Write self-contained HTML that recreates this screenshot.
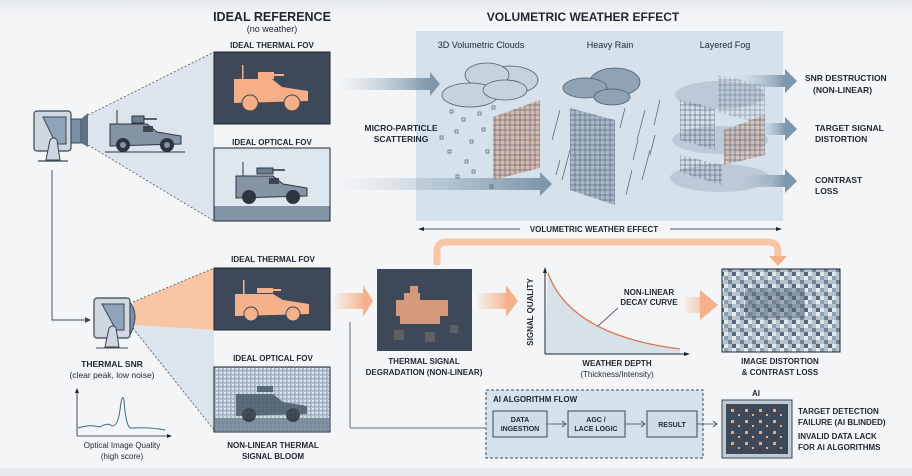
<!DOCTYPE html>
<html><head><meta charset="utf-8"><style>
html,body{margin:0;padding:0;background:#f3f5f7;}
svg{display:block;font-family:"Liberation Sans",sans-serif;}
.b{font-weight:bold;fill:#1e2732;}
.n{fill:#1e2732;}
</style></head><body>
<svg width="912" height="476" viewBox="0 0 912 476" xmlns="http://www.w3.org/2000/svg">
<defs>
<linearGradient id="ga" x1="0" x2="1"><stop offset="0" stop-color="#a9bccc" stop-opacity="0"/><stop offset="1" stop-color="#7f97ab"/></linearGradient>
<linearGradient id="go" x1="0" x2="1"><stop offset="0" stop-color="#f8c9a8" stop-opacity="0.2"/><stop offset="1" stop-color="#f6b08a"/></linearGradient>
<linearGradient id="top" x1="0" y1="0" x2="0" y2="1"><stop offset="0" stop-color="#e2e6ea"/><stop offset="1" stop-color="#f3f5f7"/></linearGradient>
<pattern id="grid" width="5" height="5" patternUnits="userSpaceOnUse"><rect width="5" height="5" fill="none" stroke="#4d5f72" stroke-width="0.6"/></pattern>
<pattern id="noise" width="12" height="12" patternUnits="userSpaceOnUse"><rect width="12" height="12" fill="#b6c3cf"/><rect x="0" y="0" width="4" height="4" fill="#e6ecf1"/><rect x="8" y="4" width="4" height="4" fill="#6f8296"/><rect x="4" y="8" width="4" height="4" fill="#dfe6ec"/><rect x="4" y="0" width="4" height="4" fill="#8da0b2"/><rect x="0" y="8" width="4" height="4" fill="#56687b"/></pattern>
<pattern id="fine" width="4" height="4" patternUnits="userSpaceOnUse"><rect width="4" height="4" fill="#aebccb"/><rect width="2" height="2" fill="#d7dfe7"/><rect x="2" y="2" width="1" height="1" fill="#6b7d90"/></pattern>
<pattern id="dots" width="14" height="11" patternUnits="userSpaceOnUse"><rect x="3" y="2" width="3" height="3" fill="#f0a97c"/><rect x="10" y="7" width="2" height="2" fill="#e9b08c"/></pattern>
</defs>
<rect width="912" height="476" fill="#f3f5f7"/>
<rect width="912" height="14" fill="url(#top)"/>

<!-- titles -->
<text x="272" y="21" class="b" font-size="12.5" text-anchor="middle">IDEAL REFERENCE</text>
<text x="272" y="32" class="n" font-size="9" text-anchor="middle">(no weather)</text>
<text x="272" y="48" class="b" font-size="8" text-anchor="middle">IDEAL THERMAL FOV</text>
<text x="272" y="145" class="b" font-size="8" text-anchor="middle">IDEAL OPTICAL FOV</text>

<!-- cone top -->
<polygon points="88,115 214,52 214,221 88,145" fill="#d6e1ea" opacity="0.8"/>
<line x1="88" y1="115" x2="214" y2="52" stroke="#555" stroke-dasharray="2,2" stroke-width="0.8"/>
<line x1="88" y1="145" x2="214" y2="221" stroke="#555" stroke-dasharray="2,2" stroke-width="0.8"/>
<!-- camera 1 -->
<rect x="34" y="111" width="37" height="40" rx="3" fill="#cfd8e0" stroke="#3b4655" stroke-width="1.2"/>
<polygon points="43,117 66,117 66,144 56,144" fill="#8fa6ba" stroke="#3b4655"/>
<rect x="71" y="119" width="10" height="24" fill="#7990a5" stroke="#3b4655"/>
<polygon points="81,119 88,113 88,147 81,143" fill="#5d7186"/>
<path d="M46,160 L50,140 Q54,136 57,140 L60,160Z" fill="#cfd8e0" stroke="#3b4655"/>
<line x1="38" y1="161" x2="68" y2="161" stroke="#3b4655" stroke-width="1.2"/>
<!-- small vehicle -->
<g transform="translate(107,110)">
<rect x="25" y="6" width="12" height="7" fill="#6b7d90" stroke="#2c3540"/><line x1="37" y1="9" x2="50" y2="9" stroke="#2c3540" stroke-width="1.5"/>
<line x1="10" y1="0" x2="10" y2="14" stroke="#2c3540"/>
<path d="M3,14 L40,14 L50,22 L74,26 L74,34 L3,36Z" fill="#8494a5" stroke="#2c3540"/>
<rect x="36" y="16" width="10" height="6" fill="#3b4655"/>
<circle cx="16" cy="35" r="7" fill="#2c3540"/><circle cx="16" cy="35" r="3" fill="#8494a5"/>
<circle cx="60" cy="35" r="7" fill="#2c3540"/><circle cx="60" cy="35" r="3" fill="#8494a5"/>
<line x1="-2" y1="42" x2="78" y2="42" stroke="#2c3540"/>
</g>
<!-- thermal box -->
<rect x="214" y="52" width="116" height="72" fill="#3d4959" stroke="#1e2732"/>
<g transform="translate(232,65)" fill="#f5ae86">
<rect x="26" y="7" width="16" height="7"/><rect x="40" y="9" width="12" height="2"/><rect x="10" y="0" width="1.5" height="14"/>
<path d="M2,14 L40,14 L50,22 L76,26 L76,36 L2,38Z"/>
<circle cx="18" cy="38" r="8" stroke="#3d4959" stroke-width="1"/><circle cx="60" cy="38" r="8" stroke="#3d4959" stroke-width="1"/>
</g>
<!-- optical box -->
<rect x="214" y="148" width="116" height="73" fill="#dfe7ee" stroke="#1e2732"/>
<rect x="214.5" y="206" width="115" height="14.5" fill="#8494a5"/>
<g transform="translate(233,162)">
<rect x="24" y="6" width="16" height="6" fill="#6b7d90" stroke="#2c3540"/><line x1="40" y1="8" x2="52" y2="8" stroke="#2c3540" stroke-width="1.5"/>
<line x1="10" y1="0" x2="10" y2="14" stroke="#2c3540"/>
<path d="M3,14 L40,14 L50,22 L74,26 L74,34 L3,36Z" fill="#8494a5" stroke="#2c3540"/>
<rect x="36" y="16" width="10" height="6" fill="#3b4655"/>
<circle cx="16" cy="35" r="7" fill="#2c3540"/><circle cx="60" cy="35" r="7" fill="#2c3540"/>
</g>

<!-- weather panel -->
<text x="583" y="21" class="b" font-size="12" text-anchor="middle">VOLUMETRIC WEATHER EFFECT</text>
<rect x="416" y="31" width="367" height="190" fill="#d6e2eb"/>
<text x="481" y="48" class="n" font-size="9" text-anchor="middle">3D Volumetric Clouds</text>
<text x="610" y="48" class="n" font-size="9" text-anchor="middle">Heavy Rain</text>
<text x="725" y="48" class="n" font-size="9" text-anchor="middle">Layered Fog</text>
<!-- arrows into panel -->
<rect x="340" y="78" width="90" height="12" fill="url(#ga)"/><polygon points="430,72 440,84 430,96" fill="#7f97ab"/>
<rect x="340" y="178" width="200" height="12" fill="url(#ga)"/><polygon points="540,172 552,184 540,196" fill="#7f97ab"/>
<text x="401" y="131" class="b" font-size="8.5" text-anchor="middle">MICRO-PARTICLE</text>
<text x="401" y="142" class="b" font-size="8.5" text-anchor="middle">SCATTERING</text>
<!-- clouds -->
<g fill="#c6d3de" stroke="#4d5f72" stroke-width="0.8">
<ellipse cx="510" cy="80" rx="28" ry="14"/><ellipse cx="487" cy="75" rx="22" ry="12"/><ellipse cx="470" cy="95" rx="28" ry="12"/><ellipse cx="505" cy="90" rx="22" ry="10"/>
</g>
<g fill="#8fa3b5" stroke="#4d5f72" stroke-width="0.8">
<ellipse cx="615" cy="82" rx="25" ry="14"/><ellipse cx="585" cy="88" rx="22" ry="10"/><ellipse cx="612" cy="97" rx="18" ry="8"/>
</g>
<g fill="none" stroke="#4d5f72" stroke-width="0.7">
<rect x="450" y="110" width="3" height="3"/><rect x="462" y="118" width="3" height="3"/><rect x="455" y="130" width="3" height="3"/><rect x="470" y="140" width="3" height="3"/><rect x="448" y="150" width="3" height="3"/><rect x="465" y="160" width="3" height="3"/><rect x="478" y="112" width="3" height="3"/><rect x="472" y="170" width="3" height="3"/><rect x="456" y="175" width="3" height="3"/><rect x="490" y="185" width="3" height="3"/><rect x="482" y="128" width="3" height="3"/><rect x="486" y="150" width="3" height="3"/><rect x="440" y="136" width="3" height="3"/><rect x="492" y="106" width="3" height="3"/>
</g>
<polygon points="493,117 540,100 540,168 493,180" fill="#d9a892" opacity="0.7"/>
<polygon points="493,117 540,100 540,168 493,180" fill="url(#grid)"/>
<g stroke="#4d5f72" stroke-width="0.7">
<line x1="560" y1="110" x2="552" y2="140"/><line x1="570" y1="150" x2="562" y2="180"/><line x1="645" y1="110" x2="637" y2="140"/><line x1="650" y1="150" x2="642" y2="180"/><line x1="632" y1="170" x2="626" y2="195"/><line x1="660" y1="100" x2="654" y2="125"/><line x1="625" y1="108" x2="620" y2="128"/><line x1="638" y1="140" x2="633" y2="160"/><line x1="560" y1="160" x2="556" y2="175"/><line x1="655" y1="135" x2="650" y2="155"/>
</g>
<polygon points="570,108 615,120 615,205 570,190" fill="#a8b8c7"/>
<polygon points="570,108 615,120 615,205 570,190" fill="url(#grid)"/>
<!-- fog -->
<g fill="#b3c2cf" opacity="0.75"><ellipse cx="720" cy="95" rx="45" ry="14"/><ellipse cx="720" cy="140" rx="48" ry="14"/><ellipse cx="720" cy="178" rx="50" ry="14"/></g>
<polygon points="718,75 765,85 765,125 718,112" fill="url(#grid)" opacity="0.7"/>
<polygon points="680,100 715,108 715,150 680,140" fill="url(#grid)"/>
<polygon points="724,130 765,115 765,155 724,165" fill="#d9b4a0" opacity="0.6"/>
<polygon points="724,130 765,115 765,155 724,165" fill="url(#grid)"/>
<polygon points="680,155 722,165 722,185 680,172" fill="url(#grid)"/>
<!-- out arrows -->
<rect x="740" y="75" width="45" height="12" fill="url(#ga)"/><polygon points="785,69 797,81 785,93" fill="#7f97ab"/>
<rect x="760" y="123" width="25" height="12" fill="url(#ga)"/><polygon points="785,117 797,129 785,141" fill="#7f97ab"/>
<rect x="740" y="175" width="45" height="12" fill="url(#ga)"/><polygon points="785,169 797,181 785,193" fill="#7f97ab"/>
<text x="805" y="81" class="b" font-size="8.5">SNR DESTRUCTION</text>
<text x="813" y="93" class="b" font-size="8.5">(NON-LINEAR)</text>
<text x="815" y="131" class="b" font-size="8.5">TARGET SIGNAL</text>
<text x="815" y="142" class="b" font-size="8.5">DISTORTION</text>
<text x="815" y="183" class="b" font-size="8.5">CONTRAST</text>
<text x="815" y="194" class="b" font-size="8.5">LOSS</text>
<!-- double arrow -->
<line x1="419" y1="229" x2="520" y2="229" stroke="#1e2732" stroke-width="0.8"/>
<line x1="670" y1="229" x2="781" y2="229" stroke="#1e2732" stroke-width="0.8"/>
<polygon points="418,229 424,227 424,231" fill="#1e2732"/><polygon points="782,229 776,227 776,231" fill="#1e2732"/>
<text x="594" y="232" class="b" font-size="8" text-anchor="middle">VOLUMETRIC WEATHER EFFECT</text>
<!-- orange curved arrow -->
<path d="M437,265 L437,252 Q437,242 447,242 L768,242 Q778,242 778,252 L778,258" fill="none" stroke="#f8c6a5" stroke-width="7"/>
<polygon points="769,256 787,256 778,266" fill="#f6b08a"/>

<!-- connector camera1 -> camera2 -->
<polyline points="52,170 52,320 88,320" fill="none" stroke="#3b4655" stroke-width="0.9"/>
<polygon points="91,320 85,317 85,323" fill="#3b4655"/>
<!-- bottom cones -->
<polygon points="133,302 214,268 214,330 133,325" fill="#f8c6a5"/>
<polygon points="133,325 214,330 214,430 133,330" fill="#d6e1ea" opacity="0.8"/>
<line x1="133" y1="302" x2="214" y2="268" stroke="#555" stroke-dasharray="2,2" stroke-width="0.8"/>
<line x1="133" y1="328" x2="214" y2="430" stroke="#555" stroke-dasharray="2,2" stroke-width="0.8"/>
<!-- camera 2 -->
<rect x="94" y="298" width="36" height="40" rx="3" fill="#cfd8e0" stroke="#3b4655" stroke-width="1.2"/>
<path d="M130,302 Q140,315 130,335Z" fill="#7990a5" stroke="#3b4655"/>
<polygon points="102,304 124,304 124,330 116,330" fill="#8fa6ba" stroke="#3b4655"/>
<path d="M105,347 L109,328 Q113,324 116,328 L119,347Z" fill="#cfd8e0" stroke="#3b4655"/>
<line x1="96" y1="348" x2="128" y2="348" stroke="#3b4655"/>
<text x="112" y="367" class="b" font-size="8.5" text-anchor="middle">THERMAL SNR</text>
<text x="112" y="378" class="n" font-size="8.5" text-anchor="middle">(clear peak, low noise)</text>
<!-- small graph -->
<line x1="77" y1="390" x2="77" y2="436" stroke="#1e2732" stroke-width="0.8"/>
<line x1="77" y1="436" x2="170" y2="436" stroke="#1e2732" stroke-width="0.8"/>
<polygon points="77,388 75,393 79,393" fill="#1e2732"/><polygon points="172,436 167,434 167,438" fill="#1e2732"/>
<path d="M78,428 Q90,424 100,427 Q108,422 112,426 Q118,426 120,410 Q122,392 124,400 Q126,430 132,428 Q150,427 165,430" fill="none" stroke="#3b6a88" stroke-width="1"/>
<text x="122" y="448" class="n" font-size="8" text-anchor="middle">Optical Image Quality</text>
<text x="122" y="459" class="n" font-size="8" text-anchor="middle">(high score)</text>
<!-- bottom thermal -->
<text x="273" y="262" class="b" font-size="8" text-anchor="middle">IDEAL THERMAL FOV</text>
<rect x="214" y="268" width="116" height="62" fill="#3d4959" stroke="#1e2732"/>
<g transform="translate(233,280)" fill="#f5b08c">
<rect x="24" y="8" width="16" height="5"/><rect x="38" y="9" width="10" height="2"/><rect x="10" y="0" width="1.5" height="14"/>
<path d="M2,14 L40,14 L50,20 L76,24 L76,34 L2,36Z"/>
<circle cx="18" cy="34" r="7" stroke="#3d4959"/><circle cx="60" cy="34" r="7" stroke="#3d4959"/>
</g>
<text x="273" y="361" class="b" font-size="8" text-anchor="middle">IDEAL OPTICAL FOV</text>
<rect x="214" y="367" width="116" height="65" fill="url(#fine)" stroke="#1e2732"/>
<rect x="215" y="418" width="114" height="13" fill="#6f8294" opacity="0.8"/>
<g transform="translate(233,380)" fill="#4a5b6d" opacity="0.85">
<rect x="24" y="6" width="16" height="6"/><path d="M3,14 L40,14 L50,22 L74,26 L74,34 L3,36Z"/>
<circle cx="16" cy="35" r="7" fill="#2c3540"/><circle cx="60" cy="35" r="7" fill="#2c3540"/>
</g>
<text x="273" y="448" class="b" font-size="8" text-anchor="middle">NON-LINEAR THERMAL</text>
<text x="273" y="459" class="b" font-size="8" text-anchor="middle">SIGNAL BLOOM</text>
<!-- orange arrow 1 -->
<rect x="335" y="293" width="30" height="16" fill="url(#go)"/><polygon points="363,285 373,301 363,317" fill="#f6b08a"/>
<polyline points="350,322 350,428" fill="none" stroke="#3b4655" stroke-width="0.8"/>
<!-- blurred box -->
<rect x="377" y="269" width="95" height="82" fill="#3d4959"/>
<g fill="#f0a882" opacity="0.85"><rect x="404" y="293" width="16" height="8"/><rect x="396" y="300" width="52" height="16"/><rect x="400" y="316" width="40" height="8"/><rect x="410" y="286" width="8" height="8"/></g>
<g fill="#6d6a6a" opacity="0.7"><rect x="394" y="330" width="10" height="10"/><rect x="425" y="332" width="10" height="10"/><rect x="450" y="325" width="8" height="8"/></g>
<text x="424" y="364" class="b" font-size="8" text-anchor="middle">THERMAL SIGNAL</text>
<text x="424" y="375" class="b" font-size="8" text-anchor="middle">DEGRADATION (NON-LINEAR)</text>
<!-- orange arrow 2 -->
<rect x="478" y="293" width="30" height="16" fill="url(#go)"/><polygon points="506,285 518,301 506,317" fill="#f6b08a"/>
<!-- decay graph -->
<path d="M548,273 Q570,335 680,349 L680,354 L545,354Z" fill="#d6e1ea"/>
<path d="M548,273 Q570,335 680,349" fill="none" stroke="#e07850" stroke-width="1.3"/>
<line x1="545" y1="270" x2="545" y2="354" stroke="#1e2732"/><line x1="545" y1="354" x2="688" y2="354" stroke="#1e2732"/>
<polygon points="545,267 543,273 547,273" fill="#1e2732"/><polygon points="690,354 684,352 684,356" fill="#1e2732"/>
<text transform="translate(533,312) rotate(-90)" class="b" font-size="8" text-anchor="middle">SIGNAL QUALITY</text>
<text x="649" y="295" class="b" font-size="8" text-anchor="middle">NON-LINEAR</text>
<text x="649" y="305" class="b" font-size="8" text-anchor="middle">DECAY CURVE</text>
<line x1="598" y1="326" x2="618" y2="308" stroke="#1e2732" stroke-width="0.7"/>
<text x="617" y="366" class="b" font-size="8" text-anchor="middle">WEATHER DEPTH</text>
<text x="617" y="377" class="n" font-size="8" text-anchor="middle">(Thickness/Intensity)</text>
<!-- orange arrow 3 -->
<rect x="685" y="297" width="25" height="16" fill="url(#go)"/><polygon points="700,290 718,305 700,320" fill="#f6b08a"/>
<!-- noisy box -->
<rect x="722" y="269" width="118" height="83" fill="url(#noise)" stroke="#1e2732"/>
<rect x="745" y="288" width="60" height="30" fill="#4d5f72" opacity="0.45"/>
<text x="780" y="364" class="b" font-size="8" text-anchor="middle">IMAGE DISTORTION</text>
<text x="780" y="375" class="b" font-size="8" text-anchor="middle">&amp; CONTRAST LOSS</text>
<!-- AI flow -->
<line x1="350" y1="428" x2="485" y2="428" stroke="#3b4655" stroke-width="0.8"/>
<rect x="486" y="390" width="217" height="68" fill="#d6e2eb" stroke="#3b4655" stroke-dasharray="3,2"/>
<text x="493" y="402" class="b" font-size="8">AI ALGORITHM FLOW</text>
<rect x="493" y="411" width="54" height="26" fill="#d0dce6" stroke="#3b4655"/>
<text x="520" y="422" class="b" font-size="7" text-anchor="middle">DATA</text><text x="520" y="431" class="b" font-size="7" text-anchor="middle">INGESTION</text>
<rect x="568" y="411" width="57" height="26" fill="#d0dce6" stroke="#3b4655"/>
<text x="596" y="422" class="b" font-size="7" text-anchor="middle">AGC /</text><text x="596" y="431" class="b" font-size="7" text-anchor="middle">LACE LOGIC</text>
<rect x="647" y="411" width="50" height="26" fill="#d0dce6" stroke="#3b4655"/>
<text x="672" y="427" class="b" font-size="7" text-anchor="middle">RESULT</text>
<g stroke="#3b4655" stroke-width="0.8" fill="none"><line x1="547" y1="424" x2="566" y2="424"/><polyline points="562,421 566,424 562,427"/><line x1="625" y1="424" x2="645" y2="424"/><polyline points="641,421 645,424 641,427"/><line x1="697" y1="424" x2="717" y2="424"/><polyline points="713,421 717,424 713,427"/></g>
<text x="756" y="396" class="b" font-size="8" text-anchor="middle">AI</text>
<rect x="722" y="400" width="70" height="58" fill="#bfcad4" stroke="#3b4655"/>
<rect x="726" y="404" width="62" height="50" fill="#3d4959"/>
<rect x="728" y="406" width="58" height="46" fill="url(#dots)"/>
<text x="798" y="414" class="b" font-size="8">TARGET DETECTION</text>
<text x="798" y="425" class="b" font-size="8">FAILURE (AI BLINDED)</text>
<text x="798" y="439" class="b" font-size="8">INVALID DATA LACK</text>
<text x="798" y="450" class="b" font-size="8">FOR AI ALGORITHMS</text>
<rect y="468" width="912" height="8" fill="#e6e9ec"/>
</svg>
</body></html>
